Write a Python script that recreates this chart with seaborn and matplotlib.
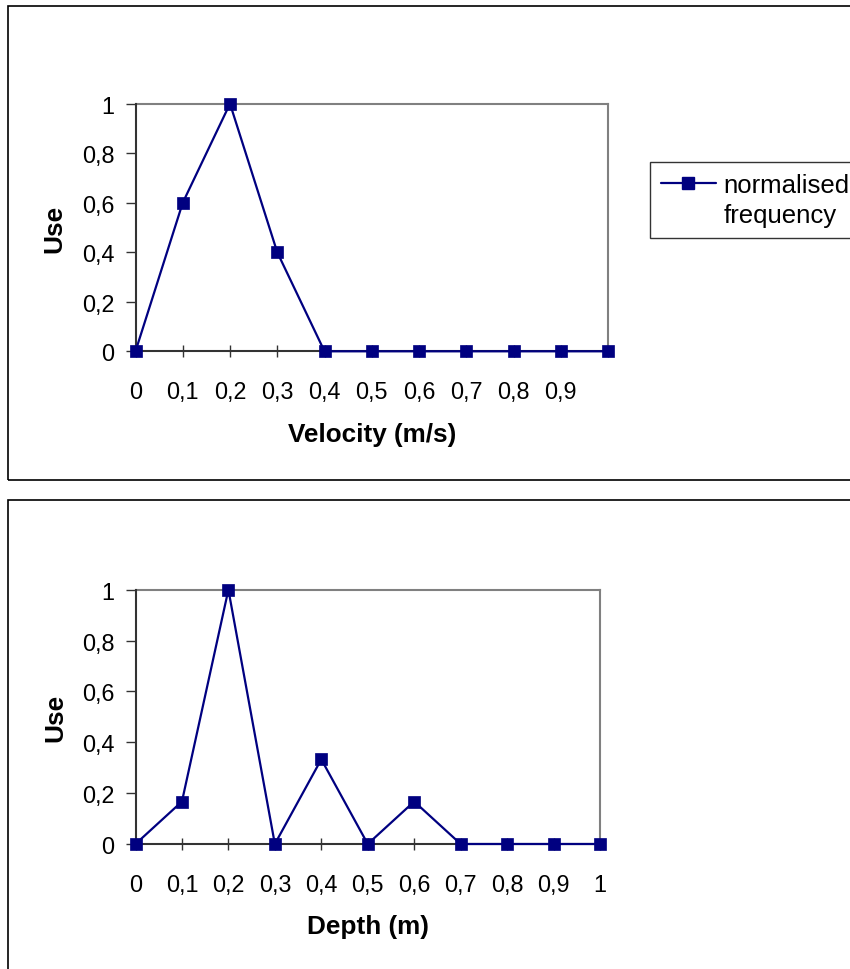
import matplotlib
matplotlib.use('Agg')
import matplotlib.pyplot as plt
from matplotlib.patches import Rectangle
from matplotlib.lines import Line2D
import seaborn as sns
import pandas as pd

# valeurs
classes = [0, 0.1, 0.2, 0.3, 0.4, 0.5, 0.6, 0.7, 0.8, 0.9, 1.0]
vitesse_use = [0, 0.6, 1, 0.4, 0, 0, 0, 0, 0, 0, 0]
profondeur_use = [0, 0.167, 1, 0, 0.333, 0, 0.167, 0, 0, 0, 0]
x_labels_haut = ['0', '0,1', '0,2', '0,3', '0,4', '0,5', '0,6', '0,7', '0,8', '0,9', '']
x_labels_bas = ['0', '0,1', '0,2', '0,3', '0,4', '0,5', '0,6', '0,7', '0,8', '0,9', '1']
y_ticks = [0, 0.2, 0.4, 0.6, 0.8, 1]
y_labels = ['0', '0,2', '0,4', '0,6', '0,8', '1']
serie = ['normalised', 'frequency']

sns.set_style('white')
plt.rcParams['font.family'] = ['Liberation Sans', 'DejaVu Sans']
plt.rcParams['text.color'] = 'black'
plt.rcParams['axes.labelcolor'] = 'black'
plt.rcParams['xtick.labelcolor'] = 'black'
plt.rcParams['ytick.labelcolor'] = 'black'

NAVY = '#000080'
FS_TICK = 16.8
FS_LAB = 18.8
FS_LEG = 18.5

fig = plt.figure(figsize=(8.5, 9.7), dpi=100)

# cadres des deux graphiques
fig.patches.append(Rectangle((7.5 / 850, 1 - 481 / 970), 0.999, 474 / 970,
                             transform=fig.transFigure, fill=False,
                             edgecolor='black', linewidth=1.2))
fig.patches.append(Rectangle((7.5 / 850, -0.01), 0.999, 1 - 501 / 970 + 0.01,
                             transform=fig.transFigure, fill=False,
                             edgecolor='black', linewidth=1.2))

ax1 = fig.add_axes([135.5 / 850, 1 - 352.3 / 970, 472.5 / 850, 247.6 / 970])
ax2 = fig.add_axes([135.5 / 850, 1 - 845 / 970, 464.5 / 850, 254.3 / 970])


def trace(ax, y, xlabels, xlabel, xlab_y):
    df = pd.DataFrame({'x': classes, 'y': y})
    sns.lineplot(data=df, x='x', y='y', ax=ax, color=NAVY, linewidth=1.6,
                 marker='s', markersize=8, markeredgecolor=NAVY,
                 markeredgewidth=0.5, clip_on=False, zorder=5)
    ax.set_xlim(0, 1)
    ax.set_ylim(0, 1)
    ax.set_xticks(classes)
    ax.set_xticklabels(xlabels, fontsize=FS_TICK)
    ax.set_yticks(y_ticks)
    ax.set_yticklabels(y_labels, fontsize=FS_TICK)
    ax.tick_params(axis='x', direction='inout', length=9, width=1,
                   color='#333333', pad=16.5, bottom=True)
    ax.tick_params(axis='y', direction='out', length=7, width=1,
                   color='#333333', pad=8, left=True)
    for s in ['left', 'bottom']:
        ax.spines[s].set_color('#333333')
        ax.spines[s].set_linewidth(1.5)
        ax.spines[s].set_zorder(3)
    for s in ['top', 'right']:
        ax.spines[s].set_color('#808080')
        ax.spines[s].set_linewidth(1.5)
    ax.set_xlabel(xlabel, fontsize=FS_LAB, fontweight='bold')
    ax.set_ylabel('Use', fontsize=FS_LAB, fontweight='bold')
    ax.xaxis.set_label_coords(0.5, xlab_y)
    ax.xaxis.label.set_va('center')
    ax.yaxis.set_label_coords(-0.172, 0.5)
    ax.yaxis.label.set_va('center')
    ax.grid(False)


trace(ax1, vitesse_use, x_labels_haut, 'Velocity (m/s)', -0.336)
trace(ax2, profondeur_use, x_labels_bas, 'Depth (m)', -0.321)

# légende : le marqueur en face de la première ligne seulement
handle = Line2D([], [], color=NAVY, linewidth=1.6, marker='s',
                markersize=8, markeredgecolor=NAVY)
vide = Line2D([], [], color='none')
leg = fig.legend([handle, vide], serie, loc='upper left',
                 bbox_to_anchor=(650 / 850, 1 - 163 / 970),
                 fontsize=FS_LEG, frameon=True, fancybox=False,
                 handlelength=2.14, handletextpad=0.31, borderpad=0.42,
                 borderaxespad=0, labelspacing=0.26)
leg.get_frame().set_edgecolor('black')
leg.get_frame().set_linewidth(1.0)

fig.savefig('out.png', dpi=100)
